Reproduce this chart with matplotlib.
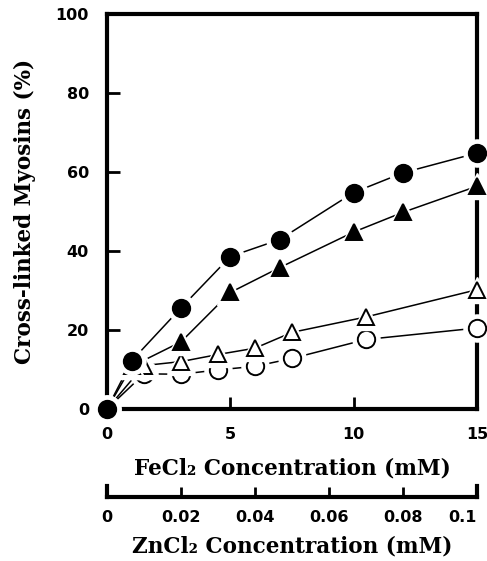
"""
Myosin cross-linking vs. FeCl2 / ZnCl2 concentration, dual concentration axes.
"""
import matplotlib
matplotlib.use("Agg")
import matplotlib.pyplot as plt

# ─── Data ─────────────────────────────────────────────────────────────────────

# FeCl2 series (mM)
fe_conc = [0, 1, 3, 5, 7, 10, 12, 15]
fe_filled_circle = [0, 12.2, 25.6, 38.6, 42.9, 54.8, 59.8, 64.8]
fe_filled_triangle = [0, 10.8, 17.0, 29.5, 35.8, 44.8, 49.8, 56.4]

# ZnCl2 series (mM)
zn_conc = [0, 0.01, 0.02, 0.03, 0.04, 0.05, 0.07, 0.10]
zn_open_triangle = [0, 11.0, 12.0, 13.8, 15.4, 19.4, 23.3, 30.2]
zn_open_circle = [0, 8.9, 8.8, 9.9, 10.8, 12.8, 17.6, 20.5]

# 0.1 mM ZnCl2 sits at 15 mM FeCl2 on the shared plot
ZN_TO_FE = 150.0

fe_ticks = [0, 5, 10, 15]
zn_ticks = [0, 0.02, 0.04, 0.06, 0.08, 0.1]
zn_tick_labels = ["0", "0.02", "0.04", "0.06", "0.08", "0.1"]
y_ticks = [0, 20, 40, 60, 80, 100]

# ─── Styles ───────────────────────────────────────────────────────────────────

SANS = "DejaVu Sans"
SERIF = "DejaVu Serif"
SPINE_W = 3.0
TICK_FS = 11.5
LABEL_FS = 15.5

W, H = 487, 561
fig = plt.figure(figsize=(W / 100, H / 100), dpi=100)

ax = fig.add_axes([107 / W, 1 - 409 / H, 370 / W, 395 / H])
ax.set_xlim(0, 15)
ax.set_ylim(0, 100)
for s in ax.spines.values():
    s.set_linewidth(SPINE_W)
ax.set_xticks(fe_ticks)
ax.set_yticks(y_ticks)
ax.tick_params(direction="in", length=9, width=2.0, pad=13,
               labelsize=TICK_FS)
for lab in ax.get_xticklabels() + ax.get_yticklabels():
    lab.set_fontfamily(SANS)
    lab.set_fontweight("bold")

series = [
    ([c * ZN_TO_FE for c in zn_conc], zn_open_circle, "o", "white", 12.5),
    ([c * ZN_TO_FE for c in zn_conc], zn_open_triangle, "^", "white", 12.0),
    (fe_conc, fe_filled_triangle, "^", "black", 12.0),
    (fe_conc, fe_filled_circle, "o", "black", 12.5),
]

for x, y, mk, fc, ms in series:
    ax.plot(x, y, color="black", lw=1.1, zorder=2, clip_on=False)
for i, (x, y, mk, fc, ms) in enumerate(series):
    # white halo leaves a small gap between the curve and each symbol
    ax.plot(x, y, ls="none", marker=mk, ms=ms + 7, mfc="white", mec="white",
            zorder=3 + 2 * i, clip_on=False)
    ax.plot(x, y, ls="none", marker=mk, ms=ms, mfc=fc, mec="black",
            mew=1.4, zorder=4 + 2 * i, clip_on=False)

ax.set_ylabel("Cross-linked Myosins (%)", fontfamily=SERIF,
              fontweight="bold", fontsize=LABEL_FS, labelpad=14)

fig.text(292 / W, 1 - 468 / H, "FeCl₂ Concentration (mM)", ha="center",
         va="center", fontfamily=SERIF, fontweight="bold", fontsize=LABEL_FS)

# secondary ZnCl2 scale drawn as a bare bracket below the main axes
ax2 = fig.add_axes([107 / W, 1 - 497 / H, 370 / W, 11 / H])
ax2.set_xlim(0, 0.1)
ax2.patch.set_visible(False)
ax2.spines["top"].set_visible(False)
for k in ("left", "right", "bottom"):
    ax2.spines[k].set_linewidth(SPINE_W)
ax2.set_yticks([])
ax2.set_xticks(zn_ticks)
ax2.set_xticklabels(zn_tick_labels)
ax2.tick_params(axis="x", direction="in", length=7, width=2.0, pad=9,
                labelsize=TICK_FS)
for lab in ax2.get_xticklabels():
    lab.set_fontfamily(SANS)
    lab.set_fontweight("bold")
ax2.get_xticklabels()[-1].set_horizontalalignment("right")

fig.text(292 / W, 1 - 547 / H, "ZnCl₂ Concentration (mM)", ha="center",
         va="center", fontfamily=SERIF, fontweight="bold", fontsize=LABEL_FS)

fig.savefig("out.png", dpi=100)
